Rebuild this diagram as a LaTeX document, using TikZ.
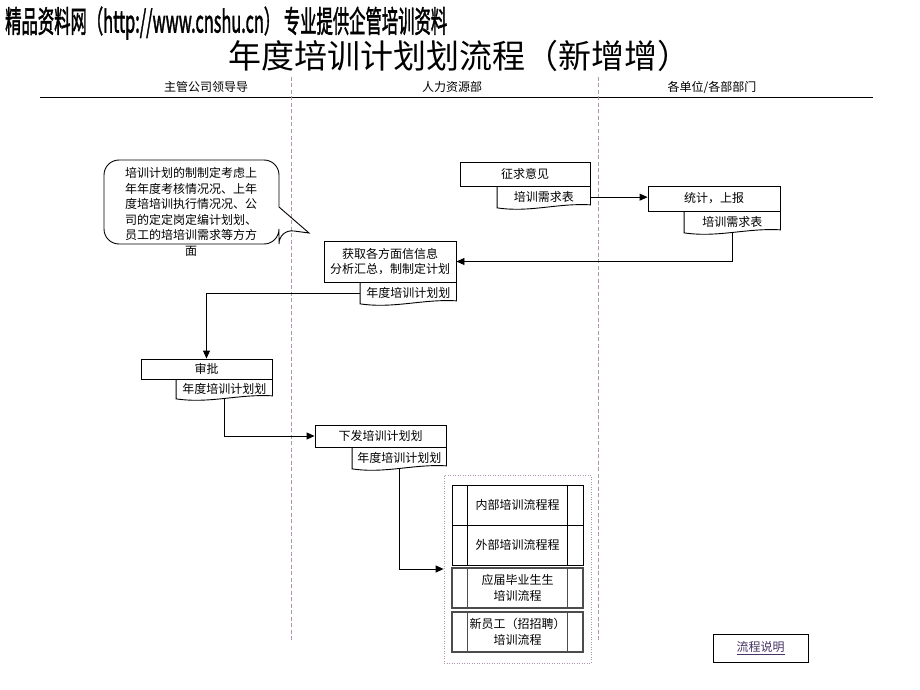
\documentclass[tikz,border=0pt]{standalone}
\usepackage{fontspec}
\setmainfont{Noto Sans CJK SC}
\newfontfamily\headfont[FakeBold=2]{Noto Sans CJK SC}
\usetikzlibrary{arrows.meta,calc}
\definecolor{lanegray}{RGB}{175,150,175}
\definecolor{linkcol}{RGB}{70,50,100}
\newcommand{\docline}[1]{%
  \draw[line width=0.9pt] (#1.north west) -- (#1.south west)
    .. controls ($(#1.south west)!0.35!(#1.south east)+(0,5)$)
    and ($(#1.south west)!0.65!(#1.south east)+(0,-5)$)
    .. ($(#1.south east)+(0,-3)$) -- (#1.north east);}

\begin{document}
\begin{tikzpicture}[x=1pt, y=-1pt,
    every node/.style={font=\fontsize{12}{15.5}\selectfont},
    proc/.style={draw, line width=0.9pt, align=center, inner sep=0pt},
    doc/.style={anchor=north east, minimum height=21pt, inner sep=0pt},
    sub/.style={draw, line width=0.9pt, minimum width=131pt, minimum height=40pt,
      align=center, inner sep=0pt},
    conn/.style={line width=0.9pt, -{Triangle[length=8pt,width=7pt]}},
    lane/.style={draw=lanegray, line width=0.8pt, dash pattern=on 4pt off 2.5pt}]
    \useasboundingbox (0,0) rectangle (920,690);
    \fill[white] (0,0) rectangle (920,690);

    \node[anchor=west, inner sep=0pt] (site) at (5,23)
      {\resizebox{442pt}{26pt}{\headfont 精品资料网（http://www.cnshu.cn） 专业提供企管培训资料}};
    \node[font=\fontsize{33}{33}\selectfont] (title) at (459,56) {年度培训计划划流程（新增增）};

    \node (laneA) at (206,87) {主管公司领导导};
    \node (laneB) at (452,87) {人力资源部};
    \node (laneC) at (712,87) {各单位/各部部门};
    \draw[line width=1pt] (40,98) -- (873,98);
    \draw[lane] (291,77) -- (291,640);
    \draw[lane] (598,77) -- (598,640);

    \draw[line width=0.9pt, rounded corners=15pt] (279,207) -- (279,160) -- (104,160)
      -- (104,244) -- (279,244) -- (279,229) [sharp corners] -- (309,233) -- cycle;
    \node[align=center] (note) at (191,212) {培训计划的制制定考虑上\\年年度考核情况况、上年\\度培培训执行情况况、公\\司的定定岗定编计划划、\\员工的培培训需求等方方\\面};

    \node[proc, minimum width=130pt, minimum height=24pt] (ask) at (525,174) {征求意见};
    \node[doc, minimum width=93pt] (askdoc) at (ask.south east) {培训需求表};
    \node[proc, minimum width=132pt, minimum height=25pt] (stat) at (714,198.5) {统计，上报};
    \node[doc, minimum width=96pt] (statdoc) at (stat.south east) {培训需求表};
    \node[proc, minimum width=132pt, minimum height=41pt] (plan) at (390,261.5)
      {获取各方面信信息\\分析汇总，制制定计划};
    \node[doc, minimum width=96pt] (plandoc) at (plan.south east) {年度培训计划划};
    \node[proc, minimum width=131pt, minimum height=20pt] (approve) at (206.5,369) {审批};
    \node[doc, minimum width=96pt, minimum height=19pt] (approvedoc) at (approve.south east) {年度培训计划划};
    \node[proc, minimum width=131pt, minimum height=22pt] (issue) at (380.5,436) {下发培训计划划};
    \node[doc, minimum width=94pt] (issuedoc) at (issue.south east) {年度培训计划划};
    \foreach \d in {askdoc,statdoc,plandoc,approvedoc,issuedoc}
      \docline{\d};

    \node[draw=lanegray, dash pattern=on 1pt off 1.5pt, line width=0.8pt,
      minimum width=147pt, minimum height=188pt, inner sep=0pt] (group) at (517.5,569) {};
    \node[sub] (inner) at (517.5,505) {内部培训流程程};
    \node[sub] (outer) at (517.5,545) {外部培训流程程};
    \node[sub, draw=black!70, line width=1.1pt] (grad) at (517.5,588) {应届毕业生生\\培训流程};
    \node[sub, draw=black!70, line width=1.1pt] (newstaff) at (517.5,632) {新员工（招招聘）\\培训流程};
    \foreach \n/\c in {inner/black, outer/black, grad/black!70, newstaff/black!70}
      \draw[\c, line width=0.9pt] ([xshift=16pt]\n.north west) -- ([xshift=16pt]\n.south west)
        ([xshift=-16pt]\n.north east) -- ([xshift=-16pt]\n.south east);

    \draw[conn] (askdoc.east) -- (askdoc.east -| stat.west);
    \draw[conn] (statdoc.south) |- (plan.east);
    \draw[conn] (plandoc.west) -| (approve.north);
    \draw[conn] (approvedoc.south) |- (issue.west);
    \draw[conn] (issuedoc.south) |- (group.west);

    \node[draw, line width=0.8pt, minimum width=95pt, minimum height=28pt, text=linkcol]
      (legend) at (760.5,648) {\underline{流程说明}};
\end{tikzpicture}
\end{document}
